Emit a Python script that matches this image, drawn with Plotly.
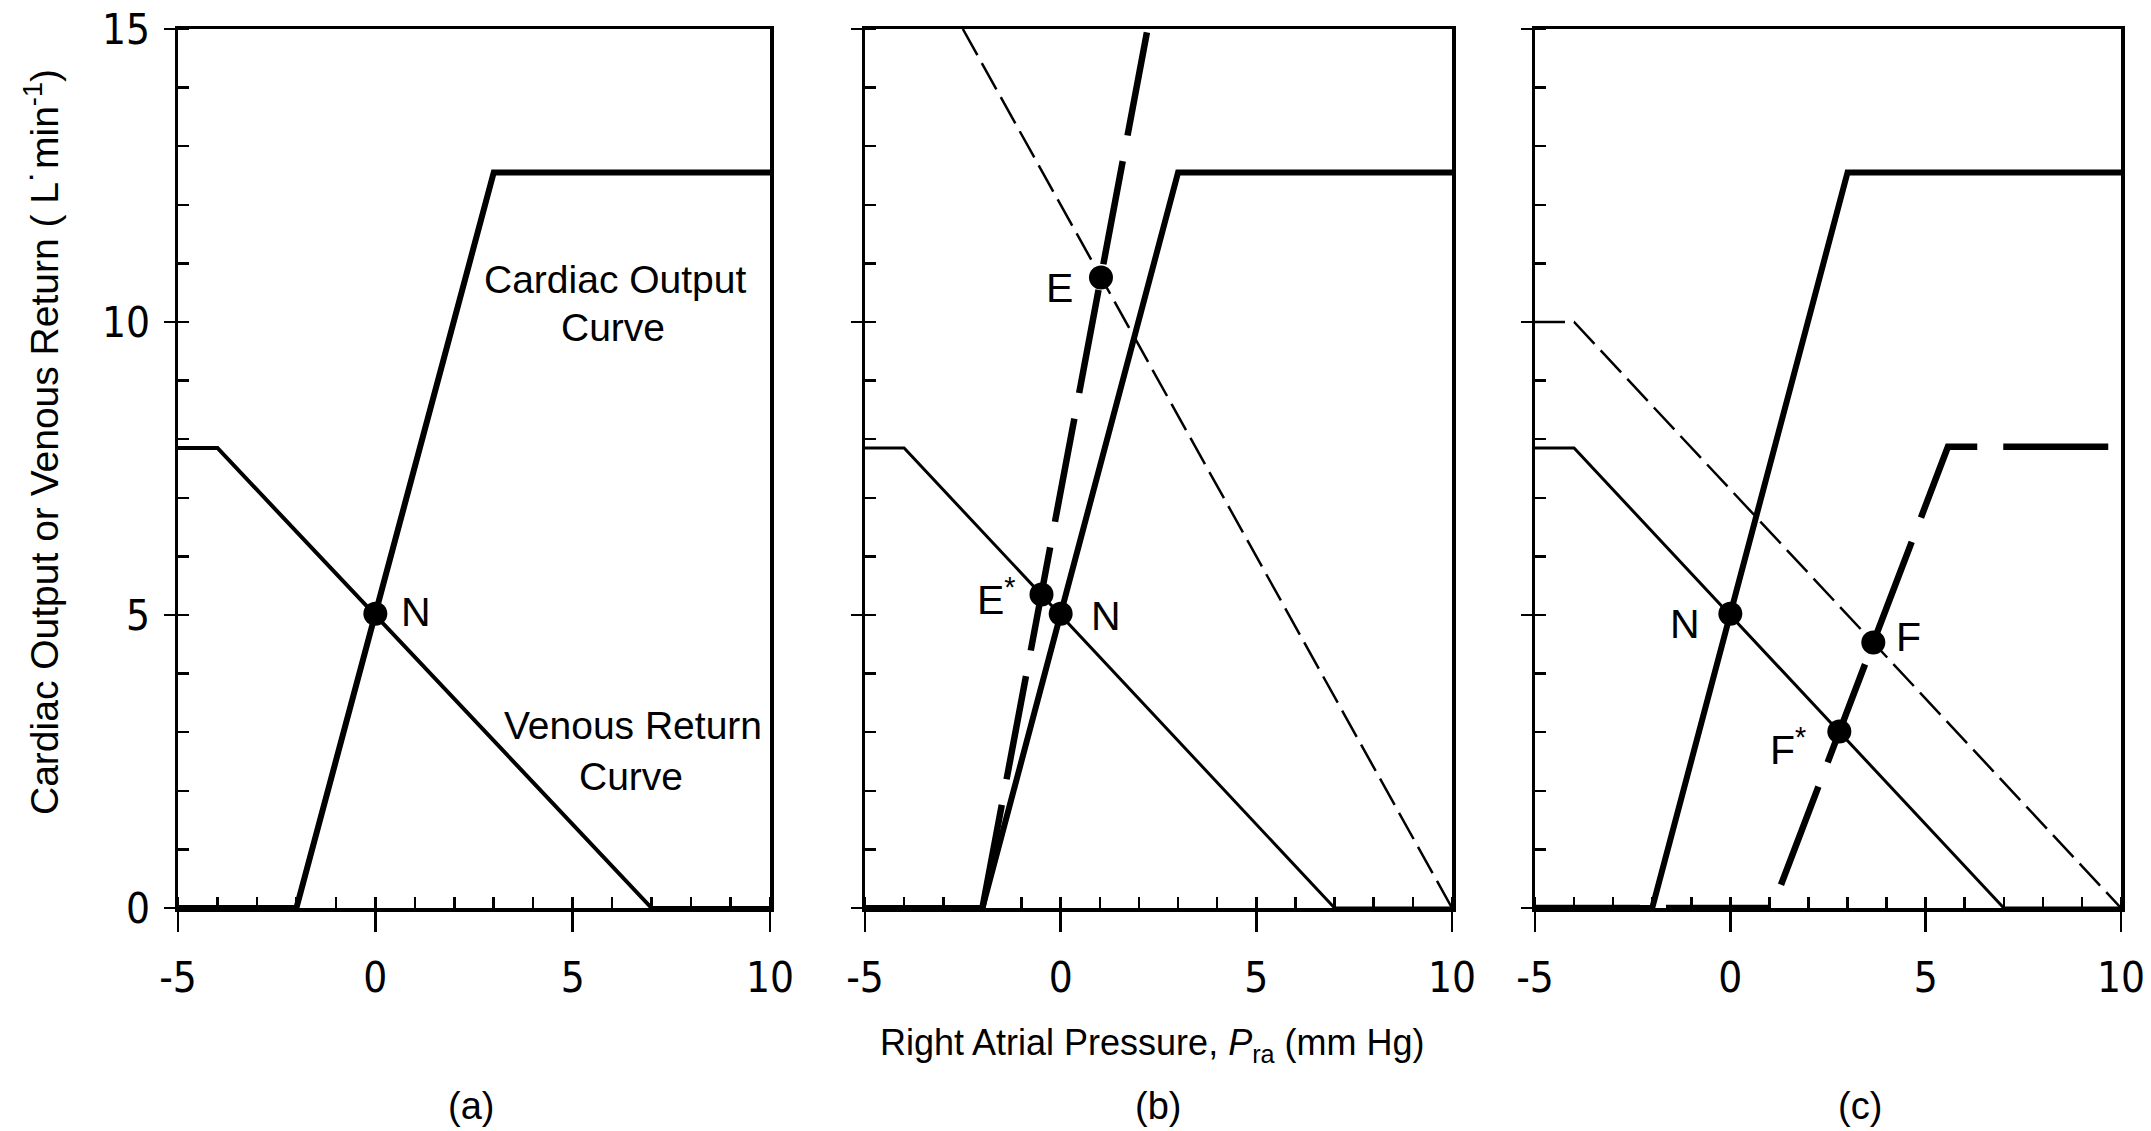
import plotly.graph_objects as go

# ---------------- data ----------------
x_tick_vals = [-5, 0, 5, 10]
x_tick_text = ['-5', '0', '5', '10']
y_tick_vals = [0, 5, 10, 15]
y_tick_text = ['0', '5', '10', '15']

# normal cardiac output curve
co_normal_x = [-5, -2, 3, 10]
co_normal_y = [0, 0, 12.55, 12.55]
# normal venous return curve
vr_normal_x = [-5, -4, 7, 10]
vr_normal_y = [7.85, 7.85, 0, 0]
# panel (b): shifted venous return (thin dashed) and enhanced cardiac output (thick dashed)
vr_b_x = [-2.5, 10]
vr_b_y = [15, 0]
co_b_x = [-2, 2.22]
co_b_y = [0, 15]
# panel (c): shifted venous return (thin dashed) and depressed cardiac output (thick dashed)
vr_c_x = [-5, -4, 10]
vr_c_y = [10, 10, 0]
co_c_x = [-5, 1.07, 5.57, 10]
co_c_y = [0, 0, 7.87, 7.87]

# equilibrium points
pts_a_x = [0]
pts_a_y = [5.02]
pts_b_x = [0, 1.03, -0.49]
pts_b_y = [5.02, 10.76, 5.35]
pts_c_x = [0, 3.66, 2.79]
pts_c_y = [5.02, 4.53, 3.01]

# point labels (text, x, y)
labels_a = [("N", 1.03, 5.05)]
labels_b = [("E", -0.04, 10.58), ("E<sup>*</sup>", -1.63, 5.31), ("N", 1.16, 4.98)]
labels_c = [("N", -1.16, 4.85), ("F", 4.55, 4.62), ("F<sup>*</sup>", 1.48, 2.75)]
curve_texts_a = [("Cardiac Output", 6.07, 10.73), ("Curve", 6.02, 9.90),
                 ("Venous Return", 6.53, 3.11), ("Curve", 6.48, 2.24)]

panel_names = ["(a)", "(b)", "(c)"]

# ---------------- layout constants ----------------
W, H = 2151, 1131
x_domains_px = [(178, 770), (865, 1452), (1535, 2121)]
y_domain_px = (29, 908)
panel_label_x_px = [471, 1158, 1860]

TICK_FONT = "Liberation Sans Narrow, Arial Narrow, DejaVu Sans Condensed, Liberation Sans, sans-serif"
TEXT_FONT = "Liberation Sans, Arial, Helvetica, sans-serif"

fig = go.Figure()

CO_W = 6
VR_W_A = 4
VR_W = 3
THIN_DASH_W = 2.5
THICK_DASH = "105px,26px"
THIN_DASH = "30px,9px"


def line(xs, ys, axis, width, dash="solid"):
    fig.add_trace(go.Scatter(x=xs, y=ys, mode="lines", xaxis="x" + axis, yaxis="y" + axis,
                             line=dict(color="black", width=width, dash=dash),
                             showlegend=False, hoverinfo="skip", cliponaxis=False))


def points(xs, ys, axis):
    fig.add_trace(go.Scatter(x=xs, y=ys, mode="markers", xaxis="x" + axis, yaxis="y" + axis,
                             marker=dict(color="black", size=24, line=dict(width=0)),
                             showlegend=False, hoverinfo="skip", cliponaxis=False))


# panel (a)
line(co_normal_x, co_normal_y, "", CO_W)
line(vr_normal_x, vr_normal_y, "", VR_W_A)
points(pts_a_x, pts_a_y, "")

# panel (b)
line(vr_b_x, vr_b_y, "2", THIN_DASH_W, THIN_DASH)
line(co_normal_x, co_normal_y, "2", CO_W)
line(vr_normal_x, vr_normal_y, "2", VR_W)
line(co_b_x, co_b_y, "2", CO_W + 0.5, THICK_DASH)
points(pts_b_x, pts_b_y, "2")

# panel (c)
line(vr_c_x, vr_c_y, "3", THIN_DASH_W, THIN_DASH)
line(co_normal_x, co_normal_y, "3", CO_W)
line(vr_normal_x, vr_normal_y, "3", VR_W)
line(co_c_x, co_c_y, "3", CO_W + 0.5, THICK_DASH)
points(pts_c_x, pts_c_y, "3")

layout = dict(width=W, height=H, autosize=False,
              margin=dict(l=0, r=0, t=0, b=0),
              plot_bgcolor="white", paper_bgcolor="white",
              showlegend=False)

ydom = [1 - y_domain_px[1] / H, 1 - y_domain_px[0] / H]
for i, (x0, x1) in enumerate(x_domains_px):
    suffix = "" if i == 0 else str(i + 1)
    layout["xaxis" + suffix] = dict(
        domain=[x0 / W, x1 / W], range=[-5, 10], anchor="y" + suffix,
        showline=True, linecolor="black", linewidth=3.5, mirror=True,
        showgrid=False, zeroline=False, automargin=False,
        tickmode="array", tickvals=x_tick_vals, ticktext=x_tick_text,
        ticks="outside", ticklen=20, tickwidth=2.5, tickcolor="black",
        ticklabelstandoff=10,
        tickfont=dict(family=TICK_FONT, size=42, color="black"),
        minor=dict(tickmode="linear", tick0=-5, dtick=1, ticks="inside", ticklen=11,
                   tickwidth=2.5, tickcolor="black", showgrid=False),
        fixedrange=True)
    layout["yaxis" + suffix] = dict(
        domain=ydom, range=[0, 15], anchor="x" + suffix,
        showline=True, linecolor="black", linewidth=3.5, mirror=True,
        showgrid=False, zeroline=False, automargin=False,
        tickmode="array", tickvals=y_tick_vals, ticktext=y_tick_text,
        showticklabels=(i == 0),
        ticks="outside", ticklen=11, tickwidth=2.5, tickcolor="black",
        ticklabelstandoff=5,
        tickfont=dict(family=TICK_FONT, size=42, color="black"),
        minor=dict(tickmode="linear", tick0=0, dtick=1, ticks="inside", ticklen=11,
                   tickwidth=2.5, tickcolor="black", showgrid=False),
        fixedrange=True)

annotations = []
for (txt, x, y) in curve_texts_a:
    annotations.append(dict(text=txt, x=x, y=y, xref="x", yref="y", showarrow=False,
                            xanchor="center", yanchor="middle",
                            font=dict(family=TEXT_FONT, size=39, color="black")))
for suffix, labs in (("", labels_a), ("2", labels_b), ("3", labels_c)):
    for (txt, x, y) in labs:
        annotations.append(dict(text=txt, x=x, y=y, xref="x" + suffix, yref="y" + suffix,
                                showarrow=False, xanchor="center", yanchor="middle",
                                font=dict(family=TEXT_FONT, size=41, color="black")))

# axis titles
annotations.append(dict(text="Cardiac Output or Venous Return ( L\u02d9min<sup>-1</sup>)",
                        x=42 / W, y=1 - 442 / H, xref="paper", yref="paper", textangle=-90,
                        showarrow=False, xanchor="center", yanchor="middle",
                        font=dict(family=TEXT_FONT, size=39, color="black")))
annotations.append(dict(text="Right Atrial Pressure, <i>P</i><sub>ra</sub> (mm Hg)",
                        x=1152 / W, y=1 - 1045 / H, xref="paper", yref="paper",
                        showarrow=False, xanchor="center", yanchor="middle",
                        font=dict(family=TEXT_FONT, size=36, color="black")))
for name, px in zip(panel_names, panel_label_x_px):
    annotations.append(dict(text=name, x=px / W, y=1 - 1106 / H, xref="paper", yref="paper",
                            showarrow=False, xanchor="center", yanchor="middle",
                            font=dict(family=TEXT_FONT, size=38, color="black")))

layout["annotations"] = annotations
fig.update_layout(**layout)

fig.write_html("out.html", config={"displayModeBar": False, "staticPlot": True},
               post_script="document.body.style.margin='0';document.body.style.overflow='hidden';")
